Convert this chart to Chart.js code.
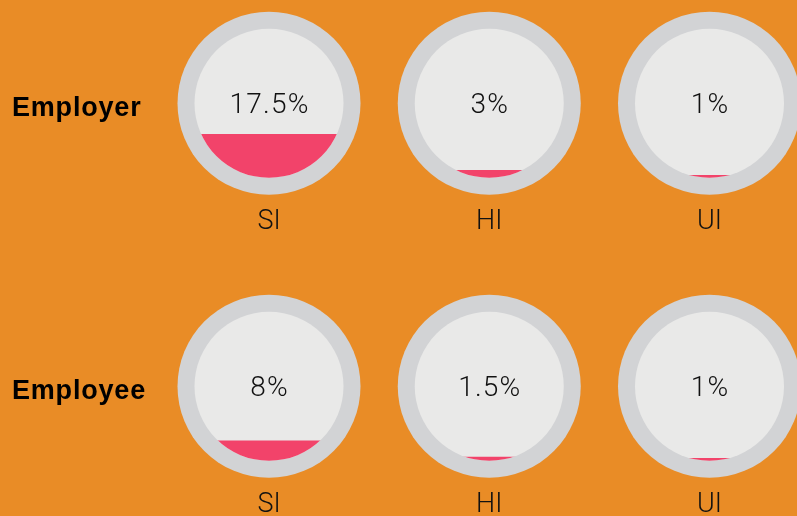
<!DOCTYPE html>
<html>
<head>
<meta charset="utf-8">
<script src="https://cdn.jsdelivr.net/npm/chart.js@4.4.1/dist/chart.umd.min.js"></script>
<style>
  html, body { margin: 0; padding: 0; background: #E98C26; overflow: hidden; }
  #wrap { width: 797px; height: 516px; position: relative; overflow: hidden; }
  .row { position: absolute; left: 0; width: 797px; height: 283px; }
</style>
</head>
<body>
<div id="wrap">
  <div class="row" style="top:0"><canvas id="employerChart"></canvas></div>
  <div class="row" style="top:283px"><canvas id="employeeChart"></canvas></div>
</div>
<script>
// Data
const categories = ["SI", "HI", "UI"];
const employerRates = [17.5, 3, 1];
const employeeRates = [8, 1.5, 1];
const gaugeMax = 60;

const lightFont = "'Helvetica Neue', Roboto, 'Liberation Sans', sans-serif";

// Draws the gray ring, light disc, clips the bar to the disc and writes the value
const gaugePlugin = {
  id: "gauge",
  beforeDatasetsDraw(chart, args, opts) {
    const ctx = chart.ctx;
    const area = chart.chartArea;
    const x = chart.scales.x;
    const cy = (area.top + area.bottom) / 2;
    const r = (area.bottom - area.top) / 2;

    ctx.save();
    ctx.fillStyle = "#000";
    ctx.font = "bold 27px 'Liberation Sans', Arial, sans-serif";
    ctx.letterSpacing = "0.8px";
    ctx.textAlign = "left";
    ctx.textBaseline = "alphabetic";
    ctx.fillText(opts.title, 12, cy + 13);
    ctx.letterSpacing = "0px";

    categories.forEach(function (c, i) {
      const cx = x.getPixelForValue(i);
      ctx.beginPath();
      ctx.arc(cx, cy, r + opts.ring, 0, 2 * Math.PI);
      ctx.fillStyle = "#D2D3D5";
      ctx.fill();
      ctx.beginPath();
      ctx.arc(cx, cy, r, 0, 2 * Math.PI);
      ctx.fillStyle = "#E9E9E8";
      ctx.fill();
    });
    ctx.restore();

    // clip bars to the inner circles (restored after datasets draw)
    ctx.save();
    ctx.beginPath();
    categories.forEach(function (c, i) {
      const cx = x.getPixelForValue(i);
      ctx.moveTo(cx + r, cy);
      ctx.arc(cx, cy, r, 0, 2 * Math.PI);
    });
    ctx.clip();
  },
  afterDatasetsDraw(chart) {
    const ctx = chart.ctx;
    ctx.restore();
    const area = chart.chartArea;
    const x = chart.scales.x;
    const cy = (area.top + area.bottom) / 2;
    const values = chart.data.datasets[0].data;
    ctx.save();
    ctx.font = "300 28px " + lightFont;
    ctx.letterSpacing = "1.2px";
    ctx.fillStyle = "#111";
    ctx.textAlign = "center";
    ctx.textBaseline = "middle";
    values.forEach(function (v, i) {
      ctx.fillText(v + "%", x.getPixelForValue(i) + 0.6, cy + 3);
    });
    ctx.restore();
  },
};

function makeGauge(canvasId, title, values) {
  return new Chart(document.getElementById(canvasId), {
    type: "bar",
    data: {
      labels: categories,
      datasets: [
        {
          label: title,
          data: values,
          backgroundColor: "#F2436A",
          borderWidth: 0,
          barThickness: 152,
          clip: false,
        },
      ],
    },
    options: {
      responsive: true,
      maintainAspectRatio: false,
      animation: false,
      events: [],
      layout: {
        padding: { left: 269, right: 87.5, top: 28.8, bottom: 44.8 },
      },
      plugins: {
        legend: { display: false },
        tooltip: { enabled: false },
        gauge: { title: title, ring: 17 },
      },
      scales: {
        x: {
          type: "category",
          offset: false,
          grid: { display: false, drawTicks: false },
          border: { display: false },
          ticks: {
            padding: 28,
            maxRotation: 0,
            autoSkip: false,
            color: "#111",
            font: { family: lightFont, size: 27, weight: 300 },
          },
          afterFit: function (scale) {
            scale.height = 60.4;
          },
        },
        y: {
          display: false,
          min: 0,
          max: gaugeMax,
        },
      },
    },
    plugins: [gaugePlugin],
  });
}

makeGauge("employerChart", "Employer", employerRates);
makeGauge("employeeChart", "Employee", employeeRates);
</script>
</body>
</html>
